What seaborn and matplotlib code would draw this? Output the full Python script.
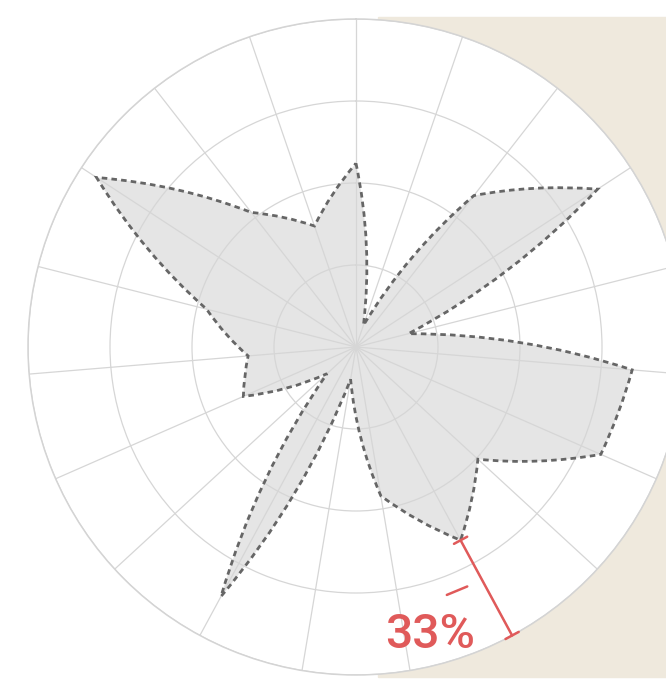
import numpy as np
import pandas as pd
import matplotlib
matplotlib.use("Agg")
import matplotlib.pyplot as plt
import seaborn as sns
from matplotlib.patches import Rectangle, PathPatch
from matplotlib.path import Path

# one value per spoke, clockwise from the top (scale 0-100)
spokes = list(range(19))
values = [56, 7, 58.5, 88, 16.5, 84.5, 81.5, 50.5, 67, 46,
          10, 86.5, 12, 37.5, 33, 47, 94.5, 52, 39]
ring_ticks = [25, 50, 75, 100]
highlight_spoke = 8
highlight_label = "33%"

red = "#e05a5a"
grid_col = "#d6d6d6"

sns.set_theme(style="white")

n = len(spokes)
theta = np.array(spokes) * 2 * np.pi / n
# closed ring of vertices; last angle is 2*pi so the final edge does not wrap
ring_t = np.append(theta, 2 * np.pi)
ring_r = np.array(values + values[:1], dtype=float)

# each edge: quadratic curve with its control point halfway in (theta, r)
verts = [(ring_t[0], ring_r[0])]
codes = [Path.MOVETO]
for i in range(n):
    verts.append(((ring_t[i] + ring_t[i + 1]) / 2, (ring_r[i] + ring_r[i + 1]) / 2))
    verts.append((ring_t[i + 1], ring_r[i + 1]))
    codes += [Path.CURVE3, Path.CURVE3]
shape = Path(verts, codes)

fig = plt.figure(figsize=(6.66, 6.86), dpi=100)
fig.patch.set_facecolor("white")
bg = Rectangle((378 / 666, 9 / 686), 288 / 666, 660 / 686,
               transform=fig.transFigure, color="#efe9dd", zorder=-10)
fig.patches.append(bg)

ax = fig.add_axes([28 / 666, 11 / 686, 656 / 666, 656 / 686], projection="polar")
ax.set_zorder(1)
ax.set_facecolor("white")
ax.set_theta_zero_location("N")
ax.set_theta_direction(-1)
ax.set_ylim(0, 100)
ax.set_xticks(theta)
ax.set_yticks(ring_ticks)
ax.set_xticklabels([])
ax.set_yticklabels([])
ax.set_axisbelow(True)
ax.grid(True, color=grid_col, linewidth=0.9)
ax.spines["polar"].set_color("#d4d4d4")
ax.spines["polar"].set_linewidth(1.1)

# fill sits under the grid so spokes and rings show through it
ax.add_patch(PathPatch(shape, transform=ax.transData, facecolor="#e5e5e5",
                       edgecolor="none", zorder=0.2))
ax.add_patch(PathPatch(shape, transform=ax.transData, facecolor="none",
                       edgecolor="#666666", linewidth=2,
                       linestyle=(0, (2, 1.5)), zorder=3))

# gap between the highlighted spoke and the outer ring
th = theta[highlight_spoke]
gap = pd.DataFrame({"theta": [th, th], "value": [values[highlight_spoke], 100]})
sns.lineplot(data=gap, x="theta", y="value", sort=False, ax=ax,
             color=red, linewidth=1.8, zorder=5)
ax.annotate("", xy=(th, values[highlight_spoke]), xytext=(th, 100),
            arrowprops=dict(arrowstyle="|-|,widthA=0.45,widthB=0.45",
                            color=red, lw=1.8, shrinkA=0, shrinkB=0),
            zorder=5, annotation_clip=False)
ax.plot([th + np.radians(3.5), th + np.radians(8.3)], [80.5, 80.5],
        color=red, lw=1.8, zorder=5)
ax.set_xlabel("")
ax.set_ylabel("")

label = ax.text(th + np.radians(14), 90.6, highlight_label, color=red,
                fontsize=48, fontweight="medium", ha="center", va="center",
                family=["Roboto", "DejaVu Sans"], zorder=5)
# no condensed face installed: fit the label to the reference width
fig.canvas.draw()
bb = label.get_window_extent()
label.set_fontsize(48 * min(90 / bb.width, 1.0))

fig.savefig("out.png", dpi=100)
